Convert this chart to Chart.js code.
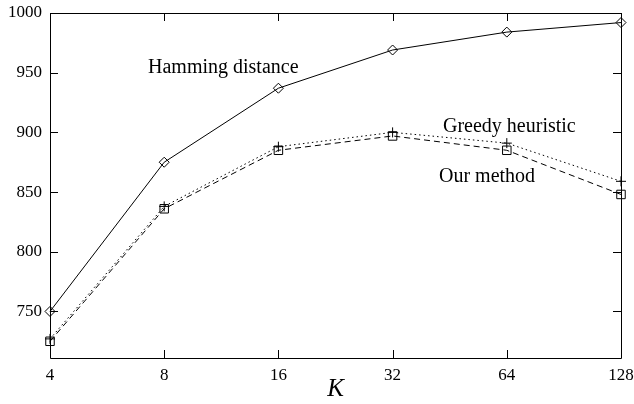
<!DOCTYPE html>
<html>
<head>
<meta charset="utf-8">
<script src="https://cdn.jsdelivr.net/npm/chart.js@4.4.1/dist/chart.umd.min.js"></script>
<style>
  html, body { margin: 0; padding: 0; background: #fff; }
  #wrap { width: 634px; height: 404px; }
</style>
</head>
<body>
<div id="wrap"><canvas id="chart"></canvas></div>
<script>
// values
const kLabels = ["4", "8", "16", "32", "64", "128"];
const hamming = [750, 875, 937, 969, 984, 992];
const greedy = [727, 838, 888, 900, 891, 859];
const ourMethod = [725, 836, 885, 897, 885, 848];
const yTicks = [750, 800, 850, 900, 950, 1000];

const serif = "'Liberation Serif', 'Times New Roman', serif";

// gnuplot-like frame with inward ticks on all four sides, plus the curve names
const framePlugin = {
    id: "frame",
    afterDraw(chart) {
        const { ctx, chartArea: a, scales } = chart;
        const tick = 8;
        ctx.save();
        ctx.strokeStyle = "#000";
        ctx.lineWidth = 1;
        ctx.beginPath();
        ctx.rect(a.left + 0.5, a.top + 0.5, a.right - a.left, a.bottom - a.top);
        scales.x.ticks.forEach((t, i) => {
            const x = Math.round(scales.x.getPixelForTick(i)) + 0.5;
            ctx.moveTo(x, a.bottom); ctx.lineTo(x, a.bottom - tick);
            ctx.moveTo(x, a.top); ctx.lineTo(x, a.top + tick);
        });
        yTicks.forEach(v => {
            const y = Math.round(scales.y.getPixelForValue(v)) + 0.5;
            ctx.moveTo(a.left, y); ctx.lineTo(a.left + tick, y);
            ctx.moveTo(a.right, y); ctx.lineTo(a.right - tick, y);
        });
        ctx.stroke();

        ctx.fillStyle = "#000";
        ctx.font = "20px " + serif;
        ctx.textBaseline = "alphabetic";
        ctx.textAlign = "left";
        ctx.fillText("Hamming distance", 148, 73);
        ctx.fillText("Greedy heuristic", 443, 132);
        ctx.fillText("Our method", 439, 182);
        ctx.restore();
    }
};

function noEdgePadding(s) {
    s.paddingLeft = 0;
    s.paddingRight = 0;
    s.paddingTop = 0;
    s.paddingBottom = 0;
}

new Chart(document.getElementById("chart"), {
    type: "line",
    data: {
        labels: kLabels,
        datasets: [
            {
                label: "Hamming distance",
                data: hamming,
                borderColor: "#000",
                borderWidth: 1,
                pointStyle: "rectRot",
                pointRadius: 5,
                pointBorderWidth: 1,
                pointBorderColor: "#000",
                pointBackgroundColor: "rgba(0,0,0,0)",
                tension: 0
            },
            {
                label: "Greedy heuristic",
                data: greedy,
                borderColor: "#000",
                borderWidth: 1,
                borderDash: [1.5, 3],
                pointStyle: "cross",
                pointRadius: 5,
                pointBorderWidth: 1,
                pointBorderColor: "#000",
                tension: 0
            },
            {
                label: "Our method",
                data: ourMethod,
                borderColor: "#000",
                borderWidth: 1,
                borderDash: [6, 4],
                pointStyle: "rect",
                pointRadius: 6,
                pointBorderWidth: 1,
                pointBorderColor: "#000",
                pointBackgroundColor: "rgba(0,0,0,0)",
                tension: 0
            }
        ]
    },
    options: {
        responsive: true,
        maintainAspectRatio: false,
        animation: false,
        clip: false,
        layout: { padding: { top: 13, right: 13, left: 0, bottom: 0 } },
        plugins: {
            legend: { display: false },
            tooltip: { enabled: false }
        },
        scales: {
            x: {
                type: "category",
                offset: false,
                grid: { display: false, drawTicks: false },
                border: { display: false },
                ticks: {
                    color: "#000",
                    font: { family: serif, size: 17 },
                    padding: 7,
                    maxRotation: 0,
                    autoSkip: false
                },
                title: {
                    display: true,
                    text: "K",
                    color: "#000",
                    font: { family: serif, size: 25, style: "italic" },
                    padding: { top: -2, bottom: 0 }
                },
                afterFit(s) { s.height = 46; noEdgePadding(s); }
            },
            y: {
                min: 711,
                max: 1000,
                grid: { display: false, drawTicks: false },
                border: { display: false },
                afterBuildTicks(s) { s.ticks = yTicks.map(v => ({ value: v })); },
                ticks: {
                    color: "#000",
                    font: { family: serif, size: 17 },
                    padding: 8,
                    callback: v => String(v)
                },
                afterFit(s) { s.width = 50; noEdgePadding(s); }
            }
        }
    },
    plugins: [framePlugin]
});
</script>
</body>
</html>
